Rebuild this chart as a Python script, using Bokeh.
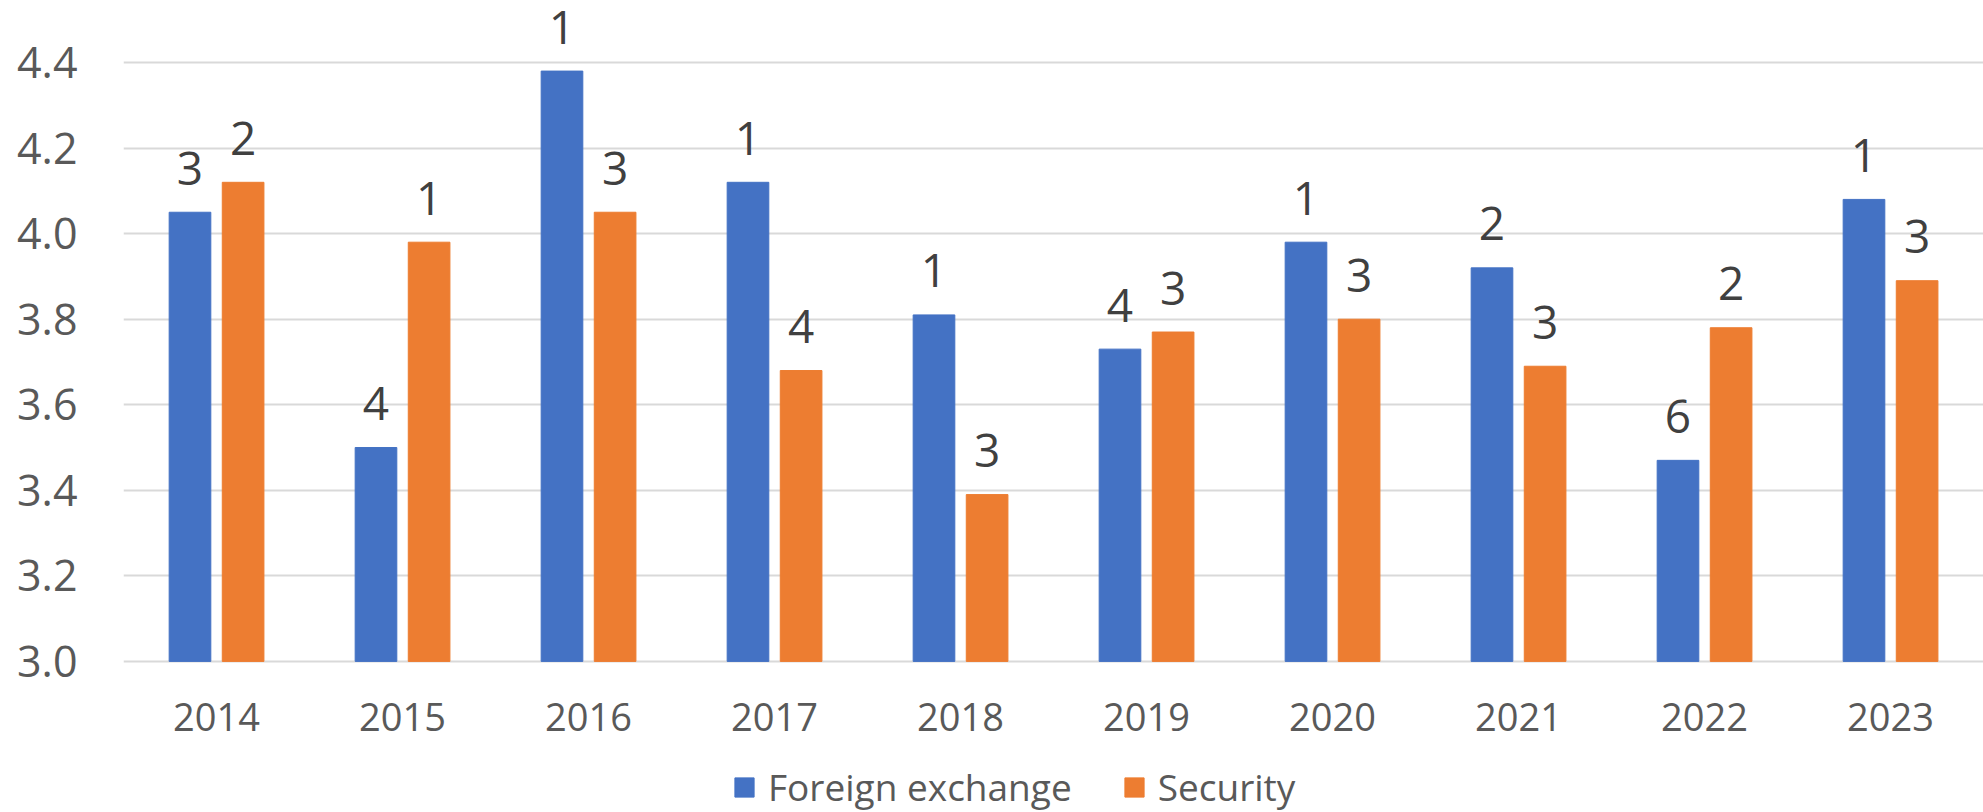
from bokeh.plotting import figure
from bokeh.models import (ColumnDataSource, FactorRange, Range1d, Legend, LegendItem,
                          FixedTicker, NumeralTickFormatter)
from bokeh.transform import dodge
from bokeh.core.properties import value
from bokeh.embed import file_html
from bokeh.resources import INLINE

years = ["2014", "2015", "2016", "2017", "2018", "2019", "2020", "2021", "2022", "2023"]
forex = [4.05, 3.50, 4.38, 4.12, 3.81, 3.73, 3.98, 3.92, 3.47, 4.08]
security = [4.12, 3.98, 4.05, 3.68, 3.39, 3.77, 3.80, 3.69, 3.78, 3.89]
forex_rank = ["3", "4", "1", "1", "1", "4", "1", "2", "6", "1"]
security_rank = ["2", "1", "3", "4", "3", "3", "3", "3", "2", "3"]
y_ticks = [3.0, 3.2, 3.4, 3.6, 3.8, 4.0, 4.2, 4.4]

BLUE = "#4472C4"
ORANGE = "#ED7D31"
FONT = "Open Sans"
BASE = 3.0

src = ColumnDataSource(dict(years=years, forex=forex, security=security,
                            forex_rank=forex_rank, security_rank=security_rank,
                            base=[BASE] * len(years)))

# frame covers the full height; value 3.0 sits 151 px above the bottom edge
p = figure(width=1983, height=812, x_range=FactorRange(*years, range_padding=0),
           y_range=Range1d(2.6468, 4.545), output_backend="svg", toolbar_location=None,
           x_axis_location=None,
           min_border_left=123, min_border_right=0, min_border_top=0, min_border_bottom=0)

r1 = p.vbar(x=dodge("years", -0.1425, range=p.x_range), top="forex", bottom="base", width=0.224,
            source=src, fill_color=BLUE, line_color=BLUE)
r2 = p.vbar(x=dodge("years", 0.143, range=p.x_range), top="security", bottom="base", width=0.224,
            source=src, fill_color=ORANGE, line_color=ORANGE)

for off, col, rk in [(-0.1425, "forex", "forex_rank"), (0.143, "security", "security_rank")]:
    p.text(x=dodge("years", off, range=p.x_range), y=col, text=rk, source=src,
           text_align="center", text_baseline="alphabetic", y_offset=-44,
           text_font=value(FONT), text_font_size="46px", text_color="#404040")

# category labels under the baseline
p.text(x="years", y="base", text="years", source=src, text_align="center",
       text_baseline="middle", y_offset=56, text_font=value(FONT),
       text_font_size="38px", text_color="#595959")

p.outline_line_color = None
p.xgrid.grid_line_color = None
p.ygrid.grid_line_color = "#D9D9D9"
p.ygrid.grid_line_width = 2
p.yaxis.ticker = FixedTicker(ticks=y_ticks)
p.yaxis.formatter = NumeralTickFormatter(format="0.0")
p.yaxis.axis_line_color = None
p.yaxis.major_tick_line_color = None
p.yaxis.minor_tick_line_color = None
p.yaxis.major_tick_out = 0
p.yaxis.major_tick_in = 0
p.yaxis.major_label_text_font = FONT
p.yaxis.major_label_text_color = "#595959"
p.yaxis.major_label_text_font_size = "43px"
p.yaxis.major_label_standoff = 46

legend = Legend(items=[LegendItem(label="Foreign exchange", renderers=[r1]),
                       LegendItem(label="Security", renderers=[r2])],
                orientation="horizontal", location=(609, 0),
                glyph_width=24, glyph_height=24, label_standoff=12, spacing=50,
                padding=0, margin=0, border_line_color=None, background_fill_alpha=0,
                label_text_font=FONT, label_text_font_size="37px", label_text_color="#595959")
p.add_layout(legend, "center")

open("out.html", "w").write(file_html(p, INLINE))
